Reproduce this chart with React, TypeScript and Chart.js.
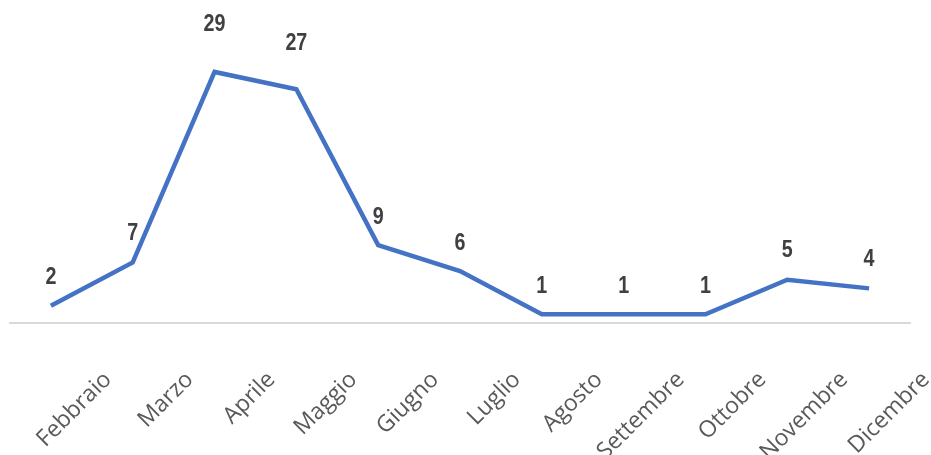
import React, { useEffect, useRef } from "react";
import { Chart, registerables } from "chart.js";

Chart.register(...registerables);

const categories = [
  "Febbraio", "Marzo", "Aprile", "Maggio", "Giugno", "Luglio",
  "Agosto", "Settembre", "Ottobre", "Novembre", "Dicembre",
];
const values = [2, 7, 29, 27, 9, 6, 1, 1, 1, 5, 4];

// styling: vertical distance (px) of each value label above its point
const labelLift = [28, 29, 48, 46, 28, 28, 28, 28, 28, 29, 29];

const labelsPlugin = {
  id: "customLabels",
  afterDraw(chart: any) {
    const ctx = chart.ctx;
    const xs = chart.scales.x;
    const meta = chart.getDatasetMeta(0);
    ctx.save();
    // value labels (condensed bold)
    ctx.fillStyle = "#404040";
    ctx.font = "bold 24px 'Liberation Sans Narrow', 'Arial Narrow', 'Liberation Sans', Arial, sans-serif";
    ctx.textAlign = "center";
    ctx.textBaseline = "middle";
    meta.data.forEach((pt: any, i: number) => {
      ctx.save();
      ctx.translate(pt.x, pt.y - labelLift[i]);
      ctx.scale(0.82, 1);
      ctx.fillText(String(values[i]), 0, 0);
      ctx.restore();
    });
    // category labels, rotated 45°
    ctx.fillStyle = "#595959";
    ctx.font = "23px 'Open Sans', 'Noto Sans', sans-serif";
    ctx.textAlign = "right";
    ctx.textBaseline = "middle";
    categories.forEach((c, i) => {
      const x = xs.getPixelForValue(i);
      ctx.save();
      ctx.translate(x + 57, 376);
      ctx.rotate(-Math.PI / 4);
      ctx.fillText(c, 0, 0);
      ctx.restore();
    });
    ctx.restore();
  },
};

export default function App() {
  const ref = useRef<HTMLCanvasElement | null>(null);
  useEffect(() => {
    if (!ref.current) return;
    const chart = new Chart(ref.current, {
      type: "line",
      data: {
        labels: categories,
        datasets: [
          {
            data: values,
            borderColor: "#4472C4",
            borderWidth: 4.5,
            pointRadius: 0,
            tension: 0,
            fill: false,
          },
        ],
      },
      options: {
        animation: false,
        responsive: false,
        maintainAspectRatio: false,
        layout: { padding: { left: 10, right: 21, top: 20, bottom: 124 } },
        plugins: { legend: { display: false }, tooltip: { enabled: false } },
        scales: {
          x: {
            offset: true,
            grid: { display: false },
            border: { display: true, color: "#d9d9d9", width: 2 },
            ticks: { display: false },
          },
          y: {
            display: false,
            min: 0,
            max: 35,
          },
        },
      },
      plugins: [labelsPlugin],
    });
    return () => chart.destroy();
  }, []);
  return (
    <div style={{ position: "absolute", left: 0, top: 0, width: 931, height: 455, background: "#fff" }}>
      <canvas ref={ref} width={931} height={455} style={{ display: "block" }} />
    </div>
  );
}
